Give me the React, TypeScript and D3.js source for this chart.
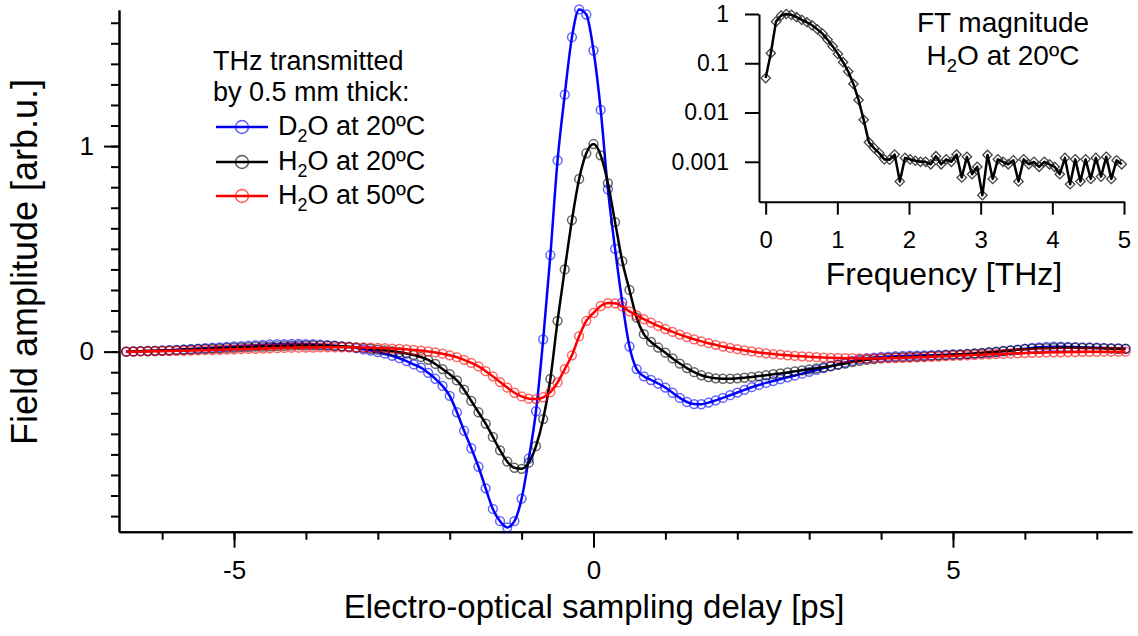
import React, { useEffect, useRef } from 'react';
import * as d3 from 'd3';

// time grid of the transients (ps)
const t0 = -6.5;
const dt = 0.1;

// field transients, one value per 0.1 ps starting at -6.5 ps
const d2o20 = [
  0.000, 0.001, 0.002, 0.003, 0.004, 0.006, 0.007, 0.009, 0.011, 0.013,
  0.015, 0.017, 0.019, 0.021, 0.023, 0.025, 0.027, 0.029, 0.031, 0.033,
  0.035, 0.036, 0.037, 0.038, 0.038, 0.037, 0.036, 0.034, 0.032, 0.029,
  0.026, 0.022, 0.017, 0.011, 0.005, -0.002, -0.010, -0.020, -0.032, -0.046,
  -0.062, -0.078, -0.103, -0.132, -0.167, -0.215, -0.295, -0.385, -0.470, -0.560,
  -0.665, -0.765, -0.825, -0.855, -0.825, -0.715, -0.520, -0.290, 0.060, 0.470,
  0.930, 1.250, 1.530, 1.665, 1.640, 1.465, 1.176, 0.790, 0.500, 0.240,
  0.025, -0.085, -0.120, -0.138, -0.155, -0.175, -0.200, -0.225, -0.245, -0.255,
  -0.256, -0.248, -0.237, -0.225, -0.212, -0.199, -0.186, -0.173, -0.162, -0.152,
  -0.143, -0.134, -0.125, -0.116, -0.107, -0.098, -0.089, -0.080, -0.071, -0.062,
  -0.053, -0.045, -0.038, -0.033, -0.029, -0.026, -0.024, -0.022, -0.021, -0.020,
  -0.019, -0.018, -0.017, -0.016, -0.015, -0.014, -0.013, -0.012, -0.010, -0.008,
  -0.005, -0.002, 0.002, 0.006, 0.010, 0.014, 0.018, 0.021, 0.023, 0.024,
  0.024, 0.023, 0.022, 0.021, 0.020, 0.019, 0.018, 0.017, 0.016, 0.015,
];

const h2o20 = [
  0.000, 0.001, 0.002, 0.003, 0.004, 0.005, 0.006, 0.007, 0.009, 0.010,
  0.012, 0.013, 0.015, 0.016, 0.018, 0.019, 0.021, 0.022, 0.024, 0.025,
  0.026, 0.027, 0.028, 0.029, 0.030, 0.030, 0.030, 0.030, 0.029, 0.028,
  0.026, 0.024, 0.021, 0.018, 0.014, 0.010, 0.006, 0.002, -0.003, -0.009,
  -0.016, -0.026, -0.040, -0.060, -0.085, -0.110, -0.140, -0.185, -0.240, -0.295,
  -0.350, -0.415, -0.480, -0.535, -0.565, -0.570, -0.540, -0.460, -0.328, -0.133,
  0.150, 0.400, 0.640, 0.840, 0.965, 1.010, 0.955, 0.820, 0.630, 0.440,
  0.300, 0.165, 0.085, 0.047, 0.020, -0.005, -0.033, -0.058, -0.080, -0.100,
  -0.115, -0.124, -0.130, -0.132, -0.132, -0.130, -0.127, -0.123, -0.119, -0.115,
  -0.110, -0.106, -0.101, -0.096, -0.091, -0.086, -0.081, -0.076, -0.070, -0.064,
  -0.058, -0.051, -0.045, -0.040, -0.036, -0.033, -0.030, -0.028, -0.027, -0.026,
  -0.025, -0.023, -0.021, -0.019, -0.017, -0.015, -0.013, -0.011, -0.009, -0.006,
  -0.003, 0.000, 0.003, 0.006, 0.009, 0.012, 0.014, 0.016, 0.017, 0.018,
  0.019, 0.019, 0.019, 0.018, 0.018, 0.017, 0.016, 0.015, 0.014, 0.013,
];

const h2o50 = [
  0.000, 0.000, 0.001, 0.001, 0.002, 0.002, 0.003, 0.004, 0.004, 0.005,
  0.006, 0.007, 0.008, 0.009, 0.010, 0.011, 0.012, 0.013, 0.014, 0.015,
  0.016, 0.017, 0.018, 0.019, 0.019, 0.020, 0.020, 0.021, 0.021, 0.021,
  0.021, 0.021, 0.020, 0.020, 0.019, 0.018, 0.017, 0.015, 0.013, 0.011,
  0.008, 0.005, 0.001, -0.004, -0.010, -0.018, -0.027, -0.040, -0.055, -0.072,
  -0.095, -0.120, -0.148, -0.175, -0.200, -0.218, -0.229, -0.231, -0.222, -0.197,
  -0.150, -0.085, -0.018, 0.075, 0.150, 0.188, 0.222, 0.236, 0.235, 0.220,
  0.196, 0.176, 0.158, 0.141, 0.125, 0.110, 0.096, 0.083, 0.071, 0.060,
  0.050, 0.041, 0.033, 0.025, 0.018, 0.012, 0.006, 0.001, -0.004, -0.008,
  -0.012, -0.015, -0.018, -0.021, -0.023, -0.025, -0.027, -0.029, -0.030, -0.031,
  -0.032, -0.032, -0.033, -0.033, -0.033, -0.032, -0.032, -0.031, -0.030, -0.029,
  -0.028, -0.027, -0.025, -0.024, -0.022, -0.021, -0.019, -0.018, -0.016, -0.015,
  -0.013, -0.012, -0.011, -0.009, -0.008, -0.007, -0.006, -0.005, -0.004, -0.003,
  -0.003, -0.002, -0.002, -0.001, -0.001, -0.001, 0.000, 0.000, 0.000, 0.000,
];

// FT magnitude of H2O at 20C, one value per 0.072 THz starting at 0
const df = 0.072;
const ftMag = [
  0.05, 0.16, 0.70, 0.93, 1.00, 0.96, 0.86, 0.76, 0.68, 0.59,
  0.49, 0.40, 0.30, 0.22, 0.155, 0.105, 0.068, 0.038, 0.018, 0.0071,
  0.0025, 0.0019, 0.0015, 0.00112, 0.0011, 0.0014, 0.0004, 0.0012, 0.00112, 0.00105,
  0.0010, 0.0010, 0.00089, 0.0013, 0.00089, 0.00112, 0.0010, 0.0014, 0.00048, 0.00126,
  0.00056, 0.00079, 0.00021, 0.00138, 0.00045, 0.00112, 0.0010, 0.00089, 0.00107, 0.0004,
  0.00112, 0.00089, 0.0010, 0.00079, 0.0010, 0.00089, 0.00079, 0.00056, 0.0012, 0.00035,
  0.00112, 0.0004, 0.00112, 0.00045, 0.0012, 0.0005, 0.00126, 0.00045, 0.00107, 0.00089,
];

const xMajor = [-5, 0, 5];
const yMajor = [0, 1];
const insetXTicks = [0, 1, 2, 3, 4, 5];
const insetYTicks = [1, 0.1, 0.01, 0.001];
const insetYLabels = ['1', '0.1', '0.01', '0.001'];

const series = [
  { mol: ['D', '2', 'O at 20ºC'], values: d2o20, color: '#0000ff' },
  { mol: ['H', '2', 'O at 20ºC'], values: h2o20, color: '#000000' },
  { mol: ['H', '2', 'O at 50ºC'], values: h2o50, color: '#ff0000' },
];

const FONT = '"Liberation Sans", Arial, sans-serif';

function subLabel(sel: any, parts: string[], fs: number) {
  sel.append('tspan').text(parts[0]);
  sel.append('tspan').attr('font-size', fs * 0.66).attr('dy', fs * 0.25).text(parts[1]);
  sel.append('tspan').attr('dy', -fs * 0.25).text(parts[2]);
}

export default function App() {
  const ref = useRef<SVGSVGElement>(null);

  useEffect(() => {
    const svg = d3.select(ref.current);
    svg.selectAll('*').remove();
    svg.attr('font-family', FONT);

    // ---------------- main plot
    const x = d3.scaleLinear().domain([-6.6, 7.49]).range([119, 1132]);
    const y = d3.scaleLinear().domain([-0.876, 1.662]).range([531.7, 10]);
    const times = d2o20.map((_, i) => t0 + i * dt);

    const styleAxis = (g: any) => {
      g.selectAll('line,path').attr('stroke', '#000').attr('stroke-width', 2);
      g.selectAll('text').attr('fill', '#000').attr('font-family', FONT);
    };

    svg.append('g')
      .attr('transform', 'translate(0,531.7)')
      .call(d3.axisBottom(x).tickValues(d3.range(-6, 8)).tickSize(8).tickSizeOuter(0).tickFormat(() => ''))
      .call(styleAxis);
    svg.append('g')
      .attr('transform', 'translate(0,531.7)')
      .call(d3.axisBottom(x).tickValues(xMajor).tickSize(16).tickPadding(13).tickSizeOuter(0).tickFormat((d: any) => String(d)))
      .call(styleAxis)
      .selectAll('text').attr('font-size', 26);

    svg.append('g')
      .attr('transform', 'translate(119,0)')
      .call(d3.axisLeft(y).tickValues(d3.range(-8, 17).map(v => v / 10)).tickSize(8).tickSizeOuter(0).tickFormat(() => ''))
      .call(styleAxis);
    svg.append('g')
      .attr('transform', 'translate(119,0)')
      .call(d3.axisLeft(y).tickValues(yMajor).tickSize(15).tickPadding(10).tickSizeOuter(0).tickFormat((d: any) => String(d)))
      .call(styleAxis)
      .selectAll('text').attr('font-size', 26);

    svg.append('text')
      .attr('transform', 'translate(37,262) rotate(-90)')
      .attr('text-anchor', 'middle')
      .attr('font-size', 36)
      .text('Field amplitude [arb.u.]');

    svg.append('text')
      .attr('x', 594).attr('y', 618)
      .attr('text-anchor', 'middle')
      .attr('font-size', 33)
      .text('Electro-optical sampling delay [ps]');

    const line = d3.line<number>()
      .x((_, i) => x(times[i]))
      .y(d => y(d))
      .curve(d3.curveMonotoneX);

    series.forEach(s => {
      const g = svg.append('g');
      g.selectAll('circle')
        .data(s.values)
        .join('circle')
        .attr('cx', (_, i) => x(times[i]))
        .attr('cy', d => y(d))
        .attr('r', 4.4)
        .attr('fill', 'none')
        .attr('stroke', s.color)
        .attr('stroke-opacity', 0.6)
        .attr('stroke-width', 1.5);
      g.append('path')
        .datum(s.values)
        .attr('d', line)
        .attr('fill', 'none')
        .attr('stroke', s.color)
        .attr('stroke-width', 2.5);
    });

    // legend
    const lg = svg.append('g').attr('font-size', 27);
    lg.append('text').attr('x', 213).attr('y', 70).text('THz transmitted');
    lg.append('text').attr('x', 213).attr('y', 101).text('by 0.5 mm thick:');
    const baseY = [135, 170, 204];
    series.forEach((s, i) => {
      const cy = baseY[i] - 8;
      lg.append('line').attr('x1', 216).attr('x2', 268).attr('y1', cy).attr('y2', cy)
        .attr('stroke', s.color).attr('stroke-width', 2.5);
      lg.append('circle').attr('cx', 242).attr('cy', cy).attr('r', 6.5)
        .attr('fill', 'none').attr('stroke', s.color).attr('stroke-opacity', 0.65).attr('stroke-width', 1.4);
      const t = lg.append('text').attr('x', 278).attr('y', baseY[i]);
      subLabel(t, s.mol, 27);
    });

    // ---------------- inset
    const xi = d3.scaleLinear().domain([-0.093, 5.0]).range([759, 1124]);
    const yi = d3.scaleLog().domain([Math.pow(10, -3.81), 1]).range([201.7, 14]);
    const freqs = ftMag.map((_, k) => k * df);

    svg.append('g')
      .attr('transform', 'translate(0,201.7)')
      .call(d3.axisBottom(xi).tickValues(insetXTicks).tickSize(13).tickPadding(16).tickSizeOuter(0).tickFormat((d: any) => String(d)))
      .call(styleAxis)
      .selectAll('text').attr('font-size', 24);
    svg.append('g')
      .attr('transform', 'translate(759,0)')
      .call(d3.axisLeft(yi).tickValues(insetYTicks).tickSize(14).tickPadding(16).tickSizeOuter(0)
        .tickFormat((_: any, i: number) => insetYLabels[i]))
      .call(styleAxis)
      .selectAll('text').attr('font-size', 23);

    const gi = svg.append('g');
    gi.selectAll('path.mk')
      .data(ftMag)
      .join('path')
      .attr('class', 'mk')
      .attr('d', d3.symbol(d3.symbolSquare, 44)() as string)
      .attr('transform', (d, k) => `translate(${xi(freqs[k])},${yi(d)}) rotate(45)`)
      .attr('fill', 'none')
      .attr('stroke', '#444')
      .attr('stroke-width', 1.3);
    gi.append('path')
      .datum(ftMag)
      .attr('d', d3.line<number>().x((_, k) => xi(freqs[k])).y(d => yi(d)))
      .attr('fill', 'none')
      .attr('stroke', '#000')
      .attr('stroke-width', 2.5)
      .attr('stroke-linejoin', 'round');

    svg.append('text')
      .attr('x', 944).attr('y', 285)
      .attr('text-anchor', 'middle')
      .attr('font-size', 32)
      .text('Frequency [THz]');
    svg.append('text')
      .attr('x', 1003).attr('y', 32)
      .attr('text-anchor', 'middle')
      .attr('font-size', 28)
      .text('FT magnitude');
    const h = svg.append('text')
      .attr('x', 1003).attr('y', 65)
      .attr('text-anchor', 'middle')
      .attr('font-size', 28);
    subLabel(h, ['H', '2', 'O at 20ºC'], 28);
  }, []);

  return (
    <svg
      ref={ref}
      width={1138}
      height={636}
      style={{ position: 'absolute', left: 0, top: 0, background: '#fff' }}
    />
  );
}
